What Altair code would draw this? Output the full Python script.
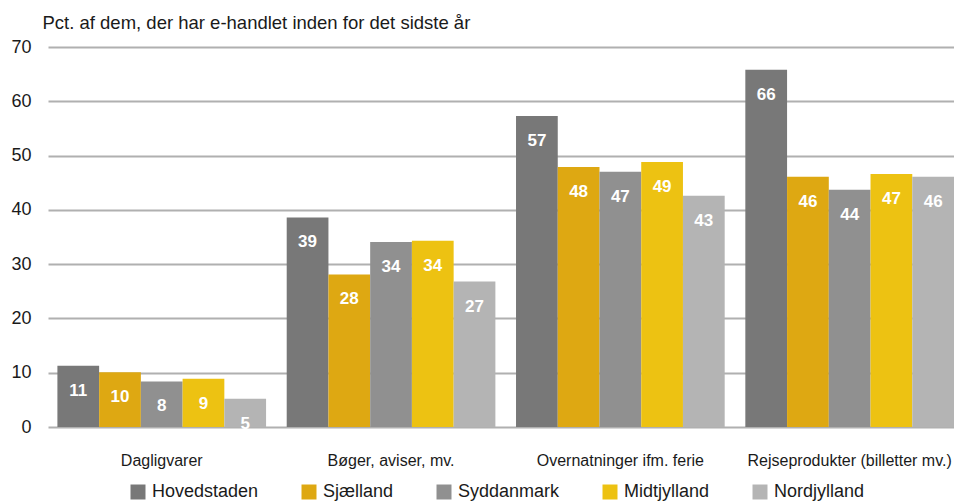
import altair as alt
import pandas as pd

categories = ["Dagligvarer", "Bøger, aviser, mv.", "Overnatninger ifm. ferie", "Rejseprodukter (billetter mv.)"]
regions = ["Hovedstaden", "Sjælland", "Syddanmark", "Midtjylland", "Nordjylland"]
colors = ["#787878", "#DEA812", "#909090", "#EDC212", "#B4B4B4"]

values = {
    "Hovedstaden": [11.3, 38.6, 57.3, 65.8],
    "Sjælland":    [10.1, 28.1, 47.9, 46.1],
    "Syddanmark":  [8.4, 34.1, 47.0, 43.7],
    "Midtjylland": [8.9, 34.3, 48.8, 46.6],
    "Nordjylland": [5.2, 26.8, 42.6, 46.1],
}
labels = {
    "Hovedstaden": [11, 39, 57, 66],
    "Sjælland":    [10, 28, 48, 46],
    "Syddanmark":  [8, 34, 47, 44],
    "Midtjylland": [9, 34, 49, 47],
    "Nordjylland": [5, 27, 43, 46],
}
y_ticks = [0, 10, 20, 30, 40, 50, 60, 70]
title_text = "Pct. af dem, der har e-handlet inden for det sidste år"

rows = []
for r in regions:
    for i, c in enumerate(categories):
        rows.append({"kategori": c, "region": r, "pct": values[r][i], "label": str(labels[r][i])})
df = pd.DataFrame(rows)

FONT = "Liberation Sans"

x = alt.X("kategori:N", sort=categories,
          scale=alt.Scale(paddingInner=0.09, paddingOuter=0.0205, align=1),
          axis=alt.Axis(title=None, labelAngle=0, ticks=False, domain=False,
                        labelFontSize=16, labelPadding=25, labelColor="#1a1a1a",
                        labelFont=FONT, labelBaseline="top", labelLimit=0))
xoff = alt.XOffset("region:N", sort=regions, scale=alt.Scale(paddingInner=0, paddingOuter=0))
y = alt.Y("pct:Q", scale=alt.Scale(domain=[0, 70], nice=False),
          axis=alt.Axis(title=title_text, titleAngle=0, titleAlign="left",
                        titleBaseline="alphabetic", titleX=-6, titleY=-19,
                        titleFontSize=18.5, titleFontWeight="normal", titleFont=FONT,
                        titleColor="#1a1a1a",
                        values=y_ticks, ticks=False, domain=False,
                        grid=True, gridColor="#B0B0B0", gridWidth=2,
                        labelFontSize=18, labelPadding=17, labelColor="#1a1a1a",
                        labelFont=FONT))

bars = alt.Chart(df).mark_bar().encode(
    x=x, xOffset=xoff, y=y,
    fill=alt.Fill("region:N", sort=regions,
                  scale=alt.Scale(domain=regions, range=colors),
                  legend=alt.Legend(title=None, orient="none", direction="horizontal",
                                    legendX=81, legendY=436, symbolType="square",
                                    symbolSize=225, symbolStrokeWidth=0,
                                    labelFontSize=18, labelFont=FONT, labelColor="#1a1a1a",
                                    labelOffset=5, columnPadding=41, padding=0)),
)

text = alt.Chart(df).mark_text(color="white", fontWeight="bold", fontSize=17,
                               font=FONT, dy=25, baseline="middle", align="center").encode(
    x=alt.X("kategori:N", sort=categories), xOffset=alt.XOffset("region:N", sort=regions),
    y="pct:Q", text="label:N",
)

chart = (bars + text).properties(
    width=906, height=380,
    autosize=alt.AutoSizeParams(type="none"),
    padding={"left": 40, "top": 39, "right": 0, "bottom": 76},
).configure_view(stroke=None).configure_axis(gridCap="butt")

chart.save("out.html", embed_options={"renderer": "svg", "actions": False})
